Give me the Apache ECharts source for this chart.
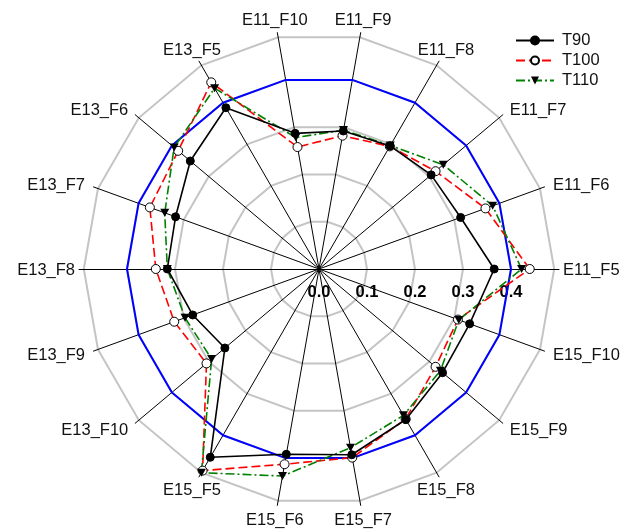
<!DOCTYPE html>
<html>
<head>
<meta charset="utf-8">
<script src="https://cdn.jsdelivr.net/npm/echarts@6/dist/echarts.min.js"></script>
<style>
  html, body { margin: 0; padding: 0; background: #fff; }
  #chart { width: 630px; height: 532px; }
</style>
</head>
<body>
<div id="chart"></div>
<script>
// Axes, counter-clockwise starting from the east spoke
const indicators = ['E11_F5', 'E11_F6', 'E11_F7', 'E11_F8', 'E11_F9', 'E11_F10',
                    'E13_F5', 'E13_F6', 'E13_F7', 'E13_F8', 'E13_F9', 'E13_F10',
                    'E15_F5', 'E15_F6', 'E15_F7', 'E15_F8', 'E15_F9', 'E15_F10'];

const t90  = [0.365, 0.314, 0.305, 0.296, 0.292, 0.287,
              0.388, 0.350, 0.318, 0.316, 0.280, 0.256,
              0.453, 0.392, 0.393, 0.362, 0.336, 0.334];
const t100 = [0.439, 0.369, 0.317, 0.295, 0.282, 0.258,
              0.449, 0.383, 0.375, 0.340, 0.321, 0.306,
              0.485, 0.413, 0.399, 0.361, 0.317, 0.308];
const t110 = [0.422, 0.385, 0.338, 0.297, 0.294, 0.278,
              0.435, 0.394, 0.342, 0.316, 0.297, 0.292,
              0.490, 0.438, 0.378, 0.352, 0.330, 0.310];
// Reference limit (blue polygon)
const limit = [0.4, 0.4, 0.4, 0.4, 0.4, 0.4,
               0.4, 0.4, 0.4, 0.4, 0.4, 0.4,
               0.4, 0.4, 0.4, 0.4, 0.4, 0.4];

const tickLabels = ['0.0', '0.1', '0.2', '0.3', '0.4'];
const axisMax = 0.5;      // value at the end of each spoke
const boundary = 0.49;    // outer frame of the plot

// Layout
const cx = 319, cy = 269, R = 240;
const FONT = 'Liberation Sans, Arial, Helvetica, sans-serif';
const gray = '#c4c4c4';
const downTriangle = 'path://M0,0 L10,0 L5,9 Z';

// Spoke labels placed just beyond the spoke tips
function nameLabels() {
  const n = indicators.length;
  return indicators.map(function (name, i) {
    const a = (i * 360 / n) * Math.PI / 180;
    const c = Math.cos(a), s = Math.sin(a);
    let r, align;
    if (Math.abs(c) <= 0.51) { r = 254; align = 'center'; }
    else { r = Math.abs(s) < 0.1 ? 244 : 249; align = c > 0 ? 'left' : 'right'; }
    return {
      type: 'text',
      x: cx + r * c,
      y: cy - r * s + 1.5,
      silent: true,
      style: {
        text: name, fill: '#111', font: '16.5px ' + FONT,
        align: align, textAlign: align,
        verticalAlign: 'middle', textVerticalAlign: 'middle'
      }
    };
  });
}

const chart = echarts.init(document.getElementById('chart'), null, { renderer: 'canvas' });

const radarSeries = function (name, values, radarIndex, lineStyle, symbol, itemStyle, size) {
  return {
    type: 'radar', name: name, radarIndex: radarIndex,
    symbol: symbol, symbolSize: size,
    lineStyle: lineStyle, itemStyle: itemStyle,
    emphasis: { disabled: true },
    silent: true,
    data: [{ value: values, name: name }]
  };
};

const styles = {
  T90:  { line: { color: '#000', width: 1.6, type: 'solid' },
          item: { color: '#000', borderColor: '#000', borderWidth: 1 }, symbol: 'circle', size: 8 },
  T100: { line: { color: '#ff0000', width: 1.6, type: [9, 4] },
          item: { color: '#fff', borderColor: '#000', borderWidth: 1 }, symbol: 'circle', size: 9 },
  T110: { line: { color: '#008000', width: 1.6, type: [9, 3, 2, 3] },
          item: { color: '#000', borderColor: '#000', borderWidth: 0 }, symbol: downTriangle, size: [9, 8] }
};

// Empty line series only to give the legend line+marker icons
const legendSeries = ['T90', 'T100', 'T110'].map(function (k) {
  return {
    type: 'line', name: k, xAxisIndex: 0, yAxisIndex: 0, data: [],
    symbol: styles[k].symbol, symbolSize: 8,
    lineStyle: styles[k].line, itemStyle: styles[k].item, silent: true
  };
});

chart.setOption({
  animation: false,
  backgroundColor: '#fff',
  textStyle: { fontFamily: FONT },
  radar: [
    {
      center: [cx, cy], radius: R, startAngle: 0, shape: 'polygon',
      splitNumber: 5,
      indicator: indicators.map(function (n) { return { name: n, min: 0, max: axisMax }; }),
      axisName: { show: false },
      axisLine: { show: true, lineStyle: { color: '#000', width: 1 } },
      axisTick: { show: false },
      axisLabel: { show: false },
      splitArea: { show: false },
      splitLine: { show: true, lineStyle: { width: 2, color: [gray, gray, gray, gray, gray, 'rgba(0,0,0,0)'] } }
    },
    {
      center: [cx, cy], radius: R * boundary / axisMax, startAngle: 0, shape: 'polygon',
      splitNumber: 1,
      indicator: indicators.map(function (n) { return { name: n, min: 0, max: boundary }; }),
      axisName: { show: false },
      axisLine: { show: false },
      axisTick: { show: false },
      axisLabel: { show: false },
      splitArea: { show: false },
      splitLine: { show: true, lineStyle: { width: 2, color: gray } }
    }
  ],
  grid: { left: cx, top: cy, width: R, height: 7, containLabel: false },
  xAxis: {
    type: 'value', min: 0, max: axisMax, interval: 0.1,
    axisLine: { show: false }, axisTick: { show: false }, splitLine: { show: false },
    axisLabel: {
      margin: 8, color: '#000', fontWeight: 'bold', fontSize: 16.5, fontFamily: FONT,
      formatter: function (v, i) { return tickLabels[i] !== undefined ? tickLabels[i] : ''; }
    }
  },
  yAxis: { type: 'value', show: false },
  legend: {
    orient: 'vertical', left: 510, top: 27,
    itemWidth: 38, itemHeight: 10, itemGap: 3,
    selectedMode: false,
    textStyle: { fontSize: 16.5, color: '#111', fontFamily: FONT, padding: [0, 0, 0, 3] },
    data: ['T90', 'T100', 'T110']
  },
  graphic: nameLabels(),
  series: legendSeries.concat([
    radarSeries('limit', limit, 0, { color: '#0000ff', width: 2 }, 'none', { color: '#0000ff' }, 0),
    radarSeries('T100', t100, 0, styles.T100.line, styles.T100.symbol, styles.T100.item, styles.T100.size),
    radarSeries('T110', t110, 0, styles.T110.line, styles.T110.symbol, styles.T110.item, styles.T110.size),
    radarSeries('T90', t90, 0, styles.T90.line, styles.T90.symbol, styles.T90.item, styles.T90.size)
  ])
});
</script>
</body>
</html>
